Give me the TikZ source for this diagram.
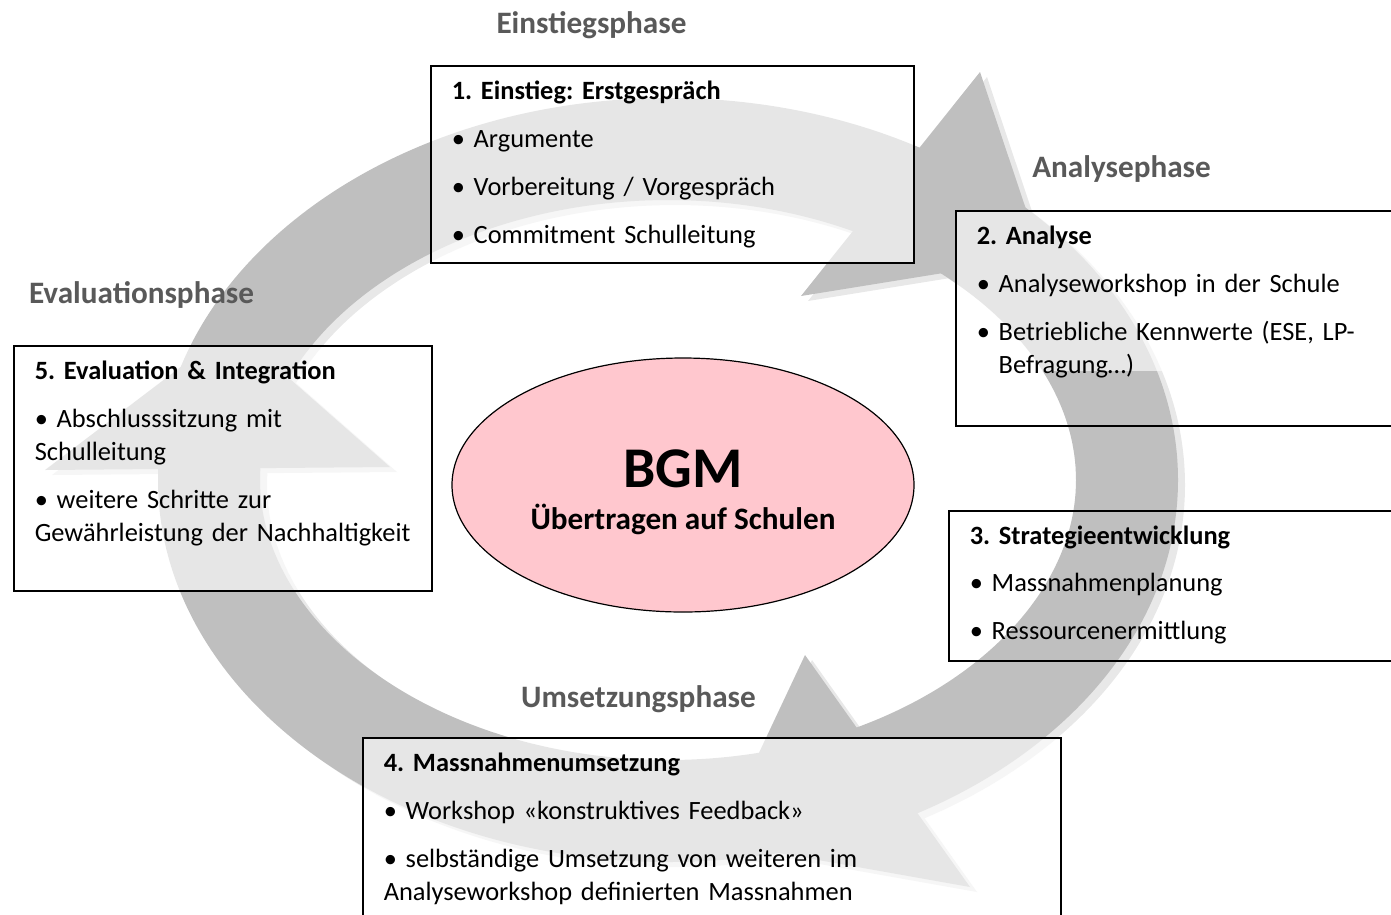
\documentclass[tikz,border=0pt]{standalone}
\usepackage{fontspec}
\setmainfont{Carlito}
\usetikzlibrary{shapes.geometric}
\frenchspacing

\definecolor{bgmpink}{RGB}{255,199,206}
\definecolor{phasegray}{RGB}{89,89,89}
\definecolor{ringgray}{RGB}{191,191,191}
\definecolor{ringshade}{RGB}{232,232,232}

% the ring: outer ellipse and a parallel inner edge 102 units in
\newcommand{\ringband}{(668,480) ellipse[x radius=510, y radius=382]
  plot[domain=0:360, samples=120, smooth, variable=\t]
  ({668+510*cos(\t)-102*3.82*cos(\t)/sqrt((3.82*cos(\t))^2+(5.1*sin(\t))^2)},
   {480+382*sin(\t)-102*5.1*sin(\t)/sqrt((3.82*cos(\t))^2+(5.1*sin(\t))^2)})}

\begin{document}
\begin{tikzpicture}[x=1pt,y=-1pt,
    stepbox/.style={draw=black, line width=1.5pt, fill=white, fill opacity=.62,
      text opacity=1, anchor=north west, align=left, inner xsep=21pt,
      inner ysep=0pt, text height=34pt, font=\fontsize{26.4}{33}\selectfont},
    phase/.style={anchor=base, inner sep=0pt, text=phasegray,
      font=\fontsize{31.2}{36}\selectfont\bfseries},
    ring/.style={fill=ringgray, even odd rule},
    ringshadow/.style={fill=ringshade, even odd rule, shift={(7,5)}}]
  \useasboundingbox (0,0) rectangle (1391,914);
  \clip (0,0) rectangle (1391,914);

  % cycle arrows: ring, then heads (inner barb / tip / outer barb)
  \foreach \look in {ringshadow, ring} {
    \fill[\look] \ringband;
    \foreach \ix/\iy/\tx/\ty/\ox/\oy in {801/296/1042/257/980/72,
        805/655/717/842/970/887, 390/467/232/328/45/470}
      \fill[\look] (\ix,\iy) -- (\tx,\ty) -- (\ox,\oy) -- cycle;
  }

  % phases
  \node[stepbox, text width=441pt, text depth=163pt] (einstieg) at (430,65)
    {\textbf{1. Einstieg: Erstgespräch}\\[15pt]
     • Argumente\\[15pt]
     • Vorbereitung / Vorgespräch\\[15pt]
     • Commitment Schulleitung};
  \node[stepbox, fill=none, text width=450pt, text depth=181pt,
    path picture={\fill[white, fill opacity=.62]
      (path picture bounding box.north west) rectangle
      ([yshift=55pt]path picture bounding box.south east);}] (analyse) at (955,210)
    {\textbf{2. Analyse}\\[15pt]
     • Analyseworkshop in der Schule\\[15pt]
     • Betriebliche Kennwerte (ESE, LP-\\
     \hphantom{•\ }Befragung…)};
  \node[stepbox, fill=none, text width=430pt, text depth=116pt] (strategie) at (948,510)
    {\textbf{3. Strategieentwicklung}\\[14pt]
     • Massnahmenplanung\\[15pt]
     • Ressourcenermittlung};
  \node[stepbox, text width=656pt, text depth=200pt] (umsetzung) at (362,737)
    {\textbf{4. Massnahmenumsetzung}\\[15pt]
     • Workshop «konstruktives Feedback»\\[15pt]
     • selbständige Umsetzung von weiteren im\\
     Analyseworkshop definierten Massnahmen};
  \node[stepbox, text width=376pt, text depth=211pt] (evaluation) at (13,345)
    {\textbf{5. Evaluation \& Integration}\\[15pt]
     • Abschlusssitzung mit\\
     Schulleitung\\[15pt]
     • weitere Schritte zur\\
     Gewährleistung der Nachhaltigkeit};

  \node[phase] (einstiegsphase) at (591.5,33) {Einstiegsphase};
  \node[phase] (analysephase) at (1121.5,177) {Analysephase};
  \node[phase] (evaluationsphase) at (141.5,303) {Evaluationsphase};
  \node[phase] (umsetzungsphase) at (638.5,707) {Umsetzungsphase};

  % centre
  \node[draw, ellipse, fill=bgmpink, line width=1.2pt, minimum width=462pt,
    minimum height=254pt, align=center, text height=98pt, text depth=10pt,
    font=\fontsize{31.2}{42}\selectfont\bfseries] (bgm) at (683,485)
    {{\fontsize{57.6}{42}\selectfont BGM}\\Übertragen auf Schulen};
\end{tikzpicture}
\end{document}
